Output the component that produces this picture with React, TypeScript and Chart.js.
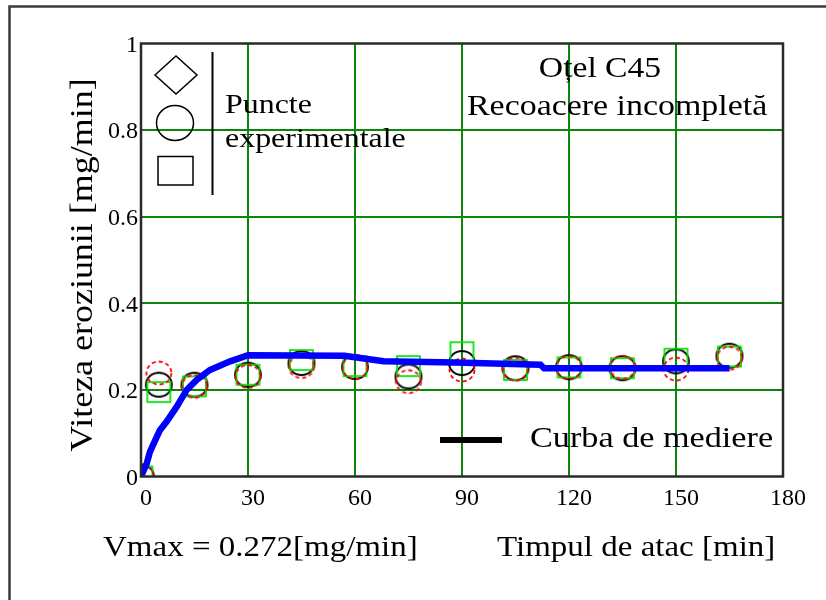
import React, { useEffect, useRef } from "react";
import { Chart, registerables } from "chart.js";

Chart.register(...registerables);

// Attack time [min] for the experimental measurements
const attackTimes = [0, 5, 15, 30, 45, 60, 75, 90, 105, 120, 135, 150, 165];
// Erosion rate [mg/min], three test specimens
const rateSpecimenA = [0, 0.239, 0.208, 0.231, 0.254, 0.252, 0.219, 0.246, 0.248, 0.252, 0.252, 0.248, 0.273];
const rateSpecimenB = [0, 0.212, 0.212, 0.235, 0.262, 0.253, 0.231, 0.262, 0.25, 0.2525, 0.25, 0.266, 0.279];
const rateSpecimenC = [0, 0.195, 0.208, 0.235, 0.269, 0.255, 0.255, 0.287, 0.246, 0.252, 0.25, 0.272, 0.277];

// Averaging curve
const curveTimes = [0, 1.6, 2.5, 4, 5.3, 7.2, 10, 12.8, 15.6, 19.3, 25, 30, 57, 68, 88, 112, 113, 165];
const curveRates = [0, 0.03, 0.057, 0.084, 0.107, 0.127, 0.161, 0.2, 0.223, 0.246, 0.266, 0.28, 0.279, 0.266, 0.263, 0.258, 0.25, 0.25];

const xMin = 0;
const xMax = 180;
const xStep = 30;
const yMin = 0;
const yMax = 1;
const yStep = 0.2;

const vmaxText = "Vmax = 0.272[mg/min]";
const xTitle = "Timpul de atac [min]";
const yTitle = "Viteza eroziunii [mg/min]";
const materialLine1 = "Oțel C45";
const materialLine2 = "Recoacere incompletă";
const pointsLabel1 = "Puncte";
const pointsLabel2 = "experimentale";
const curveLabel = "Curba de mediere";

const SERIF = '"Liberation Serif", "Times New Roman", serif';
const GRID_GREEN = "#0b860b";

function makeMarker(draw: (ctx: CanvasRenderingContext2D) => void, w: number, h: number) {
  const c = document.createElement("canvas");
  c.width = w;
  c.height = h;
  const ctx = c.getContext("2d")!;
  draw(ctx);
  return c;
}

function text(
  ctx: CanvasRenderingContext2D,
  s: string,
  x: number,
  y: number,
  size: number,
  sx: number,
  align: CanvasTextAlign = "left",
  baseline: CanvasTextBaseline = "alphabetic",
  rotate = 0
) {
  ctx.save();
  ctx.translate(x, y);
  if (rotate) ctx.rotate(rotate);
  ctx.scale(sx, 1);
  ctx.font = `${size}px ${SERIF}`;
  ctx.textAlign = align;
  ctx.textBaseline = baseline;
  ctx.fillStyle = "#000";
  ctx.fillText(s, 0, 0);
  ctx.restore();
}

const framePlugin = {
  id: "frame",
  beforeDraw(chart: Chart) {
    const ctx = chart.ctx;
    ctx.save();
    ctx.fillStyle = "#fff";
    ctx.fillRect(0, 0, chart.width, chart.height);
    ctx.strokeStyle = "#3a3a3a";
    ctx.lineWidth = 2.5;
    ctx.beginPath();
    ctx.moveTo(9.5, chart.height + 5);
    ctx.lineTo(9.5, 6.5);
    ctx.lineTo(chart.width + 5, 6.5);
    ctx.stroke();
    ctx.restore();
  },
  afterDatasetsDraw(chart: Chart) {
    const ctx = chart.ctx;
    const a = chart.chartArea;
    ctx.save();
    // plot box
    ctx.strokeStyle = "#2a2a2a";
    ctx.lineWidth = 2.5;
    ctx.strokeRect(a.left, a.top, a.right - a.left, a.bottom - a.top);

    // legend glyphs for the experimental points
    ctx.strokeStyle = "#000";
    ctx.lineWidth = 1.5;
    ctx.beginPath();
    ctx.moveTo(155, 75);
    ctx.lineTo(176, 56);
    ctx.lineTo(197, 75);
    ctx.lineTo(176, 94);
    ctx.closePath();
    ctx.stroke();
    ctx.beginPath();
    ctx.ellipse(175, 123, 18.5, 17.5, 0, 0, Math.PI * 2);
    ctx.stroke();
    ctx.strokeRect(158, 156.5, 35, 28.5);
    ctx.lineWidth = 2;
    ctx.beginPath();
    ctx.moveTo(212.5, 52);
    ctx.lineTo(212.5, 195);
    ctx.stroke();

    // legend line for the averaging curve
    ctx.lineWidth = 6;
    ctx.beginPath();
    ctx.moveTo(440, 440);
    ctx.lineTo(502, 440);
    ctx.stroke();
    ctx.restore();

    text(ctx, pointsLabel1, 225, 113, 28, 1.14);
    text(ctx, pointsLabel2, 225, 147, 28, 1.14);
    text(ctx, materialLine1, 600, 77, 30, 1.12, "center");
    text(ctx, materialLine2, 467, 115, 30, 1.13);
    text(ctx, curveLabel, 530, 447, 30, 1.14);
    text(ctx, vmaxText, 103, 556, 30, 1.1);
    text(ctx, xTitle, 497, 556, 30, 1.1);
    text(ctx, yTitle, 84, 265, 31, 1.16, "center", "middle", -Math.PI / 2);
  },
};

export default function App() {
  const ref = useRef<HTMLCanvasElement | null>(null);

  useEffect(() => {
    if (!ref.current) return;

    const dashedCircle = makeMarker((c) => {
      c.strokeStyle = "#ff0000";
      c.lineWidth = 1.8;
      c.setLineDash([4, 3]);
      c.beginPath();
      c.ellipse(15, 14, 12.5, 11.5, 0, 0, Math.PI * 2);
      c.stroke();
    }, 30, 28);
    const blackCircle = makeMarker((c) => {
      c.strokeStyle = "#000";
      c.lineWidth = 1.8;
      c.beginPath();
      c.ellipse(15, 14, 13, 12, 0, 0, Math.PI * 2);
      c.stroke();
    }, 30, 28);
    const greenSquare = makeMarker((c) => {
      c.strokeStyle = "#00e000";
      c.lineWidth = 1.7;
      c.strokeRect(2, 2, 23, 20);
    }, 27, 24);

    const pts = (ys: number[]) => attackTimes.map((x, i) => ({ x, y: ys[i] }));
    const plain = (v: any) => String(Math.round(Number(v) * 1000) / 1000);

    const chart = new Chart(ref.current, {
      type: "scatter",
      data: {
        datasets: [
          {
            type: "line",
            label: curveLabel,
            data: curveTimes.map((x, i) => ({ x, y: curveRates[i] })),
            borderColor: "#0000ff",
            borderWidth: 6.5,
            pointRadius: 0,
            tension: 0,
            fill: false,
            clip: 0,
          } as any,
          {
            label: "A",
            data: pts(rateSpecimenA),
            pointStyle: dashedCircle,
            clip: 0,
          },
          {
            label: "C",
            data: pts(rateSpecimenC),
            pointStyle: greenSquare,
            clip: 0,
          },
          {
            label: "B",
            data: pts(rateSpecimenB),
            pointStyle: blackCircle,
            clip: 0,
          },
        ],
      },
      options: {
        responsive: false,
        animation: false,
        events: [],
        layout: { padding: { top: 43.5, right: 43, left: 0, bottom: 0 } },
        plugins: { legend: { display: false }, tooltip: { enabled: false } },
        scales: {
          x: {
            type: "linear",
            min: xMin,
            max: xMax,
            border: { display: false },
            grid: {
              color: (c: any) =>
                c.tick && (c.tick.value === xMin || c.tick.value === xMax) ? "rgba(0,0,0,0)" : GRID_GREEN,
              lineWidth: 2,
              drawTicks: false,
            },
            ticks: {
              stepSize: xStep,
              color: "#000",
              font: { family: SERIF, size: 24 },
              padding: 8,
              labelOffset: 5,
              maxRotation: 0,
              callback: plain,
            },
            afterFit: (s: any) => {
              s.height = 123.5;
            },
          },
          y: {
            type: "linear",
            min: yMin,
            max: yMax,
            border: { display: false },
            grid: {
              color: (c: any) =>
                c.tick && (c.tick.value === yMin || c.tick.value === yMax) ? "rgba(0,0,0,0)" : GRID_GREEN,
              lineWidth: 2,
              drawTicks: false,
            },
            ticks: {
              stepSize: yStep,
              color: "#000",
              font: { family: SERIF, size: 24 },
              padding: 3,
              labelOffset: 2,
              callback: plain,
            },
            afterFit: (s: any) => {
              s.width = 141;
            },
          },
        },
      },
      plugins: [framePlugin],
    });

    return () => chart.destroy();
  }, []);

  return (
    <div style={{ position: "fixed", left: 0, top: 0, width: 826, height: 600, background: "#fff" }}>
      <canvas ref={ref} width={826} height={600} style={{ display: "block" }} />
    </div>
  );
}
